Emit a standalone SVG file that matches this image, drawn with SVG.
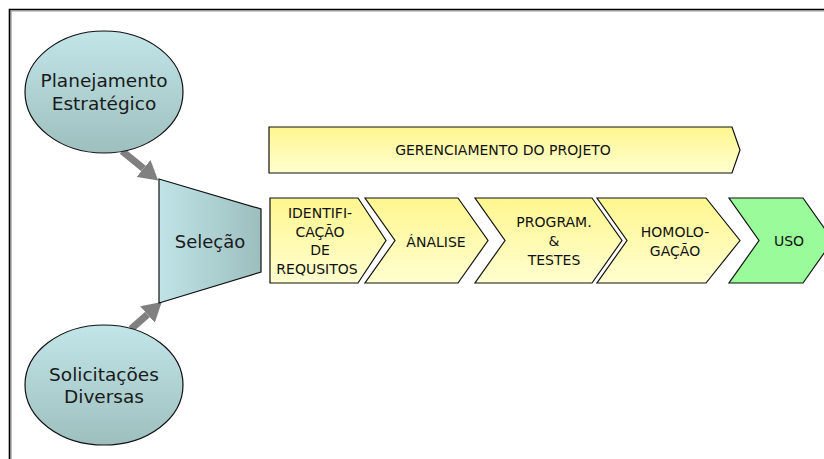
<svg xmlns="http://www.w3.org/2000/svg" width="824" height="459" viewBox="0 0 824 459">
<defs>
<linearGradient id="gEll" x1="0" y1="0" x2="0" y2="1">
<stop offset="0" stop-color="#c2e5e8"/>
<stop offset="1" stop-color="#9dbfbe"/>
</linearGradient>
<linearGradient id="gTrap" x1="0" y1="0" x2="1" y2="0">
<stop offset="0" stop-color="#c0e4e7"/>
<stop offset="1" stop-color="#9cbebd"/>
</linearGradient>
<linearGradient id="gYel" x1="0" y1="0" x2="0" y2="1">
<stop offset="0" stop-color="#fff68f"/>
<stop offset="1" stop-color="#ffffd0"/>
</linearGradient>
<marker id="head" markerUnits="userSpaceOnUse" markerWidth="20" markerHeight="22" refX="0" refY="11" orient="auto">
<path d="M0,0 L19,11 L0,22 Z" fill="#808080"/>
</marker>
</defs>
<style>
.ell{fill:url(#gEll);stroke:#111;stroke-width:1.2}
.trap{fill:url(#gTrap);stroke:#111;stroke-width:1.2}
.yel{fill:url(#gYel);stroke:#111;stroke-width:1.2}
.grn{fill:#99fb99;stroke:#111;stroke-width:1.2}
.big{font-family:"DejaVu Sans",sans-serif;font-size:18.5px;fill:#1a1a1a;text-anchor:middle}
.sm{font-family:"DejaVu Sans",sans-serif;font-size:14px;fill:#111;text-anchor:middle}
.arr{stroke:#808080;stroke-width:7;fill:none;marker-end:url(#head)}
</style>
<rect width="824" height="459" fill="#fff"/>
<path d="M11,459 V11 H824" fill="none" stroke="#999" stroke-width="1.2"/>
<path d="M9.5,459 V9.5 H824" fill="none" stroke="#000" stroke-width="1.6"/>

<g id="connectors">
<line class="arr" x1="122" y1="151" x2="143.5" y2="168.5"/>
<line class="arr" x1="131" y1="329" x2="147.5" y2="314.5"/>
</g>

<g id="planejamento">
<ellipse class="ell" cx="104" cy="92" rx="79" ry="61"/>
<text class="big" x="104" y="87">Planejamento</text>
<text class="big" x="104" y="110">Estratégico</text>
</g>

<g id="solicitacoes">
<ellipse class="ell" cx="104" cy="385" rx="79" ry="60"/>
<text class="big" x="104" y="381">Solicitações</text>
<text class="big" x="104" y="403">Diversas</text>
</g>

<g id="selecao">
<polygon class="trap" points="159,179 261,209 261,272 159,303"/>
<text class="big" x="210" y="248" style="font-size:18px">Seleção</text>
</g>

<g id="gerenciamento">
<path class="yel" d="M269,127 H732 L740,150 L732,173 H269 Z"/>
<text class="sm" x="503" y="155">GERENCIAMENTO DO PROJETO</text>
</g>

<g id="identificacao">
<path class="yel" d="M270,198 H358 L386,240.5 L358,283 H270 Z"/>
<text class="sm" x="320" y="218">IDENTIFI-</text>
<text class="sm" x="320" y="237">CAÇÃO</text>
<text class="sm" x="320" y="255">DE</text>
<text class="sm" x="317" y="274">REQUSITOS</text>
</g>

<g id="analise">
<path class="yel" d="M365,198 H458 L488,240.5 L458,283 H365 L395,240.5 Z"/>
<text class="sm" x="436" y="247">ÁNALISE</text>
</g>

<g id="programacao">
<path class="yel" d="M475,198 H592 L622,240.5 L592,283 H475 L505,240.5 Z"/>
<text class="sm" x="554" y="227">PROGRAM.</text>
<text class="sm" x="554" y="246">&amp;</text>
<text class="sm" x="554" y="265">TESTES</text>
</g>

<g id="homologacao">
<path class="yel" d="M597,198 H706 L740,240.5 L706,283 H597 L627,240.5 Z"/>
<text class="sm" x="675" y="237">HOMOLO-</text>
<text class="sm" x="675" y="256">GAÇÃO</text>
</g>

<g id="uso">
<path class="grn" d="M729,198 H803 L833,240.5 L803,283 H729 L759,240.5 Z"/>
<text class="sm" x="789" y="246">USO</text>
</g>
</svg>
